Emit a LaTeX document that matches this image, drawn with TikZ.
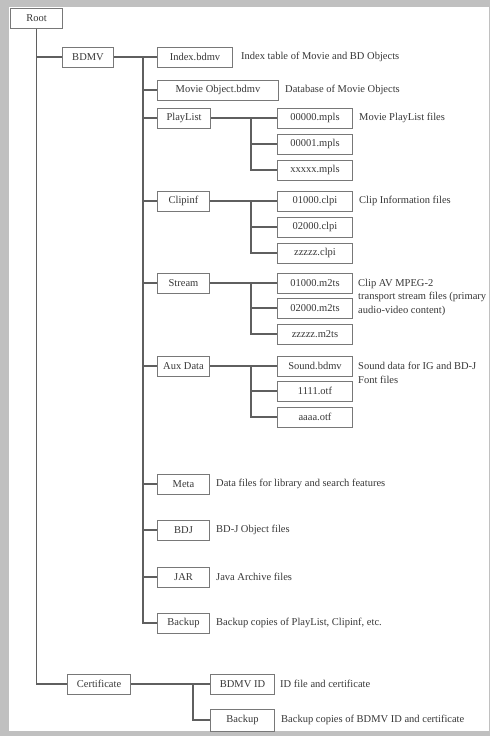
\documentclass[tikz,border=0pt]{standalone}
\usepackage{fontspec}
\setmainfont{Liberation Serif}
\usetikzlibrary{positioning, calc}
\definecolor{linegray}{RGB}{95,95,95}
\definecolor{boxgray}{RGB}{120,120,120}
\definecolor{textgray}{RGB}{55,55,55}
\definecolor{framegray}{RGB}{192,192,192}

\begin{document}
\begin{tikzpicture}[x=1pt, y=-1pt,
  dirbox/.style={draw=boxgray, line width=1pt, minimum height=20pt, inner sep=0pt, anchor=west, text=textgray, font=\fontsize{10.5}{12}\selectfont},
  desc/.style={inner sep=0pt, text=textgray, align=left, font=\fontsize{10.5}{13.5}\selectfont},
  tree/.style={draw=linegray, line width=1.3pt}]
% grey frame round the white sheet
\useasboundingbox (0,0) rectangle (490,736);
\fill[framegray] (0,0) rectangle (490,736);
\fill[white] (9,7) rectangle (489,731);
% top levels
\node[dirbox, minimum width=52pt] (root) at (10,18) {Root};
\node[dirbox, minimum width=51pt] (bdmv) at (62,57) {BDMV};
\node[dirbox, minimum width=63pt] (cert) at (67,684) {Certificate};
% folders and files in BDMV
\node[dirbox, minimum width=75pt] (index) at (157,57) {Index.bdmv};
\node[dirbox, minimum width=121pt] (movieobj) at (157,90) {Movie Object.bdmv};
\node[dirbox, minimum width=53pt] (playlist) at (157,118) {PlayList};
\node[dirbox, minimum width=52pt] (clipinf) at (157,201) {Clipinf};
\node[dirbox, minimum width=52pt] (stream) at (157,283) {Stream};
\node[dirbox, minimum width=52pt] (auxdata) at (157,366) {Aux Data};
\node[dirbox, minimum width=52pt] (meta) at (157,484) {Meta};
\node[dirbox, minimum width=52pt] (bdj) at (157,530) {BDJ};
\node[dirbox, minimum width=52pt] (jar) at (157,577) {JAR};
\node[dirbox, minimum width=52pt] (backup) at (157,623) {Backup};
% file columns, one row every 26 px
\node[dirbox, minimum width=75pt] (mplsa) at (277,118) {00000.mpls};
\node[dirbox, minimum width=75pt] (mplsb) at (277,144) {00001.mpls};
\node[dirbox, minimum width=75pt] (mplsc) at (277,170) {xxxxx.mpls};
\node[dirbox, minimum width=75pt] (clpia) at (277,201) {01000.clpi};
\node[dirbox, minimum width=75pt] (clpib) at (277,227) {02000.clpi};
\node[dirbox, minimum width=75pt] (clpic) at (277,253) {zzzzz.clpi};
\node[dirbox, minimum width=75pt] (m2tsa) at (277,283) {01000.m2ts};
\node[dirbox, minimum width=75pt] (m2tsb) at (277,308) {02000.m2ts};
\node[dirbox, minimum width=75pt] (m2tsc) at (277,334) {zzzzz.m2ts};
\node[dirbox, minimum width=75pt] (sound) at (277,366) {Sound.bdmv};
\node[dirbox, minimum width=75pt] (otfa) at (277,391) {1111.otf};
\node[dirbox, minimum width=75pt] (otfb) at (277,417) {aaaa.otf};
% Certificate
\node[dirbox, minimum width=64pt] (bdmvid) at (210,684) {BDMV ID};
\node[dirbox, minimum width=64pt, minimum height=22pt] (certbackup) at (210,720) {Backup};
% descriptions
\node[desc, right=8pt of index] (indexdesc) {Index table of Movie and BD Objects};
\node[desc, right=6pt of movieobj] (movieobjdesc) {Database of Movie Objects};
\node[desc, right=6pt of mplsa] (mplsdesc) {Movie PlayList files};
\node[desc, right=6pt of clpia] (clpidesc) {Clip Information files};
\node[desc, anchor=north west] (m2tsdesc) at (358,279) {Clip AV MPEG-2\\transport stream files (primary\\audio-video content)};
\node[desc, anchor=north west] (sounddesc) at (358,362) {Sound data for IG and BD-J\\Font files};
\node[desc, right=6pt of meta] (metadesc) {Data files for library and search features};
\node[desc, right=6pt of bdj] (bdjdesc) {BD-J Object files};
\node[desc, right=6pt of jar] (jardesc) {Java Archive files};
\node[desc, right=6pt of backup] (backupdesc) {Backup copies of PlayList, Clipinf, etc.};
\node[desc, right=5pt of bdmvid] (bdmviddesc) {ID file and certificate};
\node[desc, right=6pt of certbackup] (certbackupdesc) {Backup copies of BDMV ID and certificate};
% connectors
\draw[tree] (root.south) |- (bdmv.west);
\draw[tree] (root.south) |- (cert.west);
\coordinate (bdmvfork) at (143,57);
\draw[tree] (bdmv.east) -- (index.west);
\foreach \n in {movieobj, playlist, clipinf, stream, auxdata, meta, bdj, jar, backup}
  \draw[tree] (bdmvfork) |- (\n.west);
\coordinate (plfork) at (251,118);
\draw[tree] (playlist.east) -- (mplsa.west);
\foreach \n in {mplsb, mplsc} \draw[tree] (plfork) |- (\n.west);
\coordinate (clfork) at (251,201);
\draw[tree] (clipinf.east) -- (clpia.west);
\foreach \n in {clpib, clpic} \draw[tree] (clfork) |- (\n.west);
\coordinate (stfork) at (251,283);
\draw[tree] (stream.east) -- (m2tsa.west);
\foreach \n in {m2tsb, m2tsc} \draw[tree] (stfork) |- (\n.west);
\coordinate (auxfork) at (251,366);
\draw[tree] (auxdata.east) -- (sound.west);
\foreach \n in {otfa, otfb} \draw[tree] (auxfork) |- (\n.west);
\coordinate (certfork) at (193,684);
\draw[tree] (cert.east) -- (bdmvid.west);
\draw[tree] (certfork) |- (certbackup.west);
\end{tikzpicture}
\end{document}
